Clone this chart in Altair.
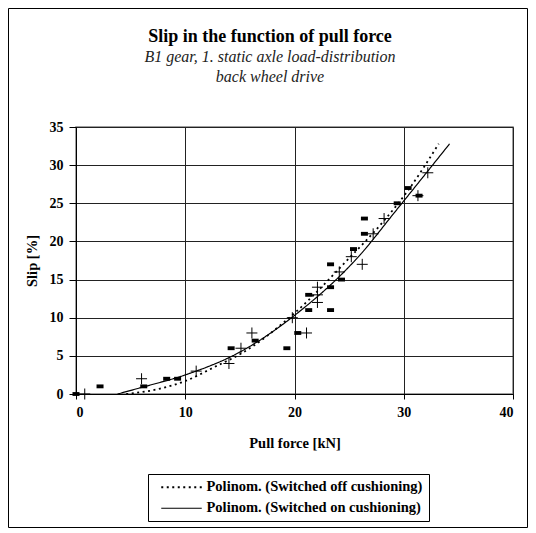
import altair as alt
import pandas as pd

OFF = "Polinom. (Switched off cushioning)"
ON = "Polinom. (Switched on cushioning)"

title_text = "Slip in the function of pull force"
subtitle_lines = ["B1 gear, 1. static axle load-distribution", "back wheel drive"]

# Switched off cushioning (dash markers)
off_x = [0, 2.2, 6.2, 8.3, 9.3, 14.2, 16.4, 19.3, 20.3, 21.3, 21.3, 23.3, 23.3, 23.3,
         24.3, 25.4, 26.4, 26.4, 29.4, 30.4, 31.4]
off_y = [0, 1, 1, 2, 2, 6, 7, 6, 8, 11, 13, 11, 14, 17,
         15, 19, 21, 23, 25, 27, 26]

# Switched on cushioning (plus markers)
on_x = [0.8, 6.0, 11.0, 14.0, 15.1, 16.1, 19.8, 21.1, 22.1, 22.1, 22.1, 24.1, 25.2,
        26.2, 27.2, 28.2, 31.3, 32.2]
on_y = [0, 2, 3, 4, 6, 8, 10, 8, 12, 13, 14, 16, 18,
        17, 21, 23, 26, 29]

# Polynomial trendlines
off_trend_x = [4.6, 7.7, 10, 12.9, 15, 20, 25, 28, 30.4, 33.2]
off_trend_y = [0, 0.7, 1.7, 3.7, 5.2, 10.6, 17.8, 22.4, 26.7, 32.8]
on_trend_x = [3.8, 6.1, 10, 15, 20, 26.1, 29.1, 34.2]
on_trend_y = [0, 0.9, 2.5, 5.5, 10.3, 18.4, 23.7, 32.8]

x_ticks = [0, 10, 20, 30, 40]
y_ticks = [0, 5, 10, 15, 20, 25, 30, 35]

off_df = pd.DataFrame({"force": off_x, "slip": off_y, "series": OFF})
on_df = pd.DataFrame({"force": on_x, "slip": on_y, "series": ON})
trend_df = pd.concat([
    pd.DataFrame({"force": off_trend_x, "slip": off_trend_y, "series": OFF}),
    pd.DataFrame({"force": on_trend_x, "slip": on_trend_y, "series": ON}),
])

FONT = "Liberation Serif"

x_enc = alt.X("force:Q", scale=alt.Scale(domain=[0, 40], nice=False),
              axis=alt.Axis(values=x_ticks, title="Pull force [kN]"))
y_enc = alt.Y("slip:Q", scale=alt.Scale(domain=[0, 35], nice=False),
              axis=alt.Axis(values=y_ticks, title="Slip [%]"))

dash_scale = alt.Scale(domain=[OFF, ON], range=[[2, 3.5], [1, 0]])
width_scale = alt.Scale(domain=[OFF, ON], range=[1.8, 1.2])
legend = alt.Legend(title=None, orient="none", legendX=72, legendY=347,
                    strokeColor="black", fillColor="white", padding=6,
                    labelFont=FONT, labelFontSize=14.5, labelFontWeight="bold",
                    labelColor="black", labelLimit=400,
                    symbolType="M-1,0L12.5,0", symbolSize=36, symbolOffset=3,
                    symbolStrokeColor="black",
                    rowPadding=6, labelOffset=35)

dash_pts = alt.Chart(off_df).mark_point(
    shape="M-1,-0.55L1,-0.55L1,0.55L-1,0.55Z", filled=True, color="black",
    size=49, opacity=1).encode(x=x_enc, y=y_enc)

plus_pts = alt.Chart(on_df).mark_point(
    shape="M-1,0L1,0M0,-1L0,1", filled=False, color="black",
    size=121, opacity=1, strokeWidth=1).encode(x=x_enc, y=y_enc)

lines = alt.Chart(trend_df).mark_line(
    color="black", interpolate="monotone", clip=True).encode(
    x=x_enc, y=y_enc,
    strokeDash=alt.StrokeDash("series:N", scale=dash_scale, legend=legend),
    strokeWidth=alt.StrokeWidth("series:N", scale=width_scale, legend=None),
    detail="series:N")

frame = alt.Chart(pd.DataFrame({"a": [0]})).mark_rect(
    fillOpacity=0, stroke="black", strokeWidth=1, clip=False).encode(
    x=alt.value(-67.5), x2=alt.value(451.5), y=alt.value(-118.5), y2=alt.value(400.5))

title_mark = alt.Chart(pd.DataFrame({"t": [title_text]})).mark_text(
    font=FONT, fontSize=18, fontWeight="bold", color="black",
    align="center", baseline="middle").encode(
    x=alt.value(194), y=alt.value(-90), text="t:N")

sub1 = alt.Chart(pd.DataFrame({"t": [subtitle_lines[0]]})).mark_text(
    font=FONT, fontSize=16, fontStyle="italic", color="#222",
    align="center", baseline="middle").encode(
    x=alt.value(194), y=alt.value(-70), text="t:N")

sub2 = alt.Chart(pd.DataFrame({"t": [subtitle_lines[1]]})).mark_text(
    font=FONT, fontSize=16, fontStyle="italic", color="#222",
    align="center", baseline="middle").encode(
    x=alt.value(194), y=alt.value(-50), text="t:N")

chart = alt.layer(frame, title_mark, sub1, sub2, lines, dash_pts, plus_pts).properties(
    width=437, height=267,
    autosize=alt.AutoSizeParams(type="none"),
    padding={"left": 68, "top": 119, "right": 15, "bottom": 136},
).configure_view(stroke="#808080", strokeWidth=1.5
).configure_axis(
    labelFont=FONT, labelFontSize=14, labelFontWeight="bold", labelColor="black",
    titleFont=FONT, titleFontSize=14.5, titleFontWeight="bold", titleColor="black",
    tickColor="black", domainColor="black", gridColor="#222",
    gridOpacity=1, gridWidth=1
).configure_axisX(tickSize=5, labelPadding=6, titlePadding=17
).configure_axisY(tickSize=7, labelPadding=6, titlePadding=10)

chart.save("out.html", embed_options={"renderer": "svg", "actions": False})
